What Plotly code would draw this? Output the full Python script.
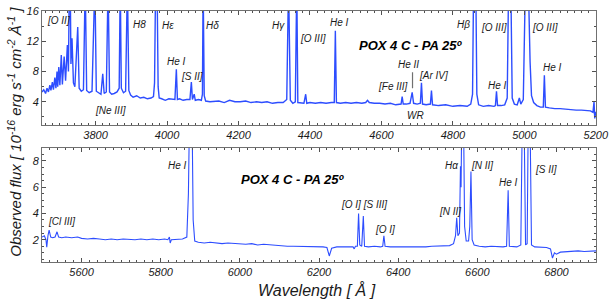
import plotly.graph_objects as go

# ---------------- data ----------------
top_wave = [3650, 3655, 3660, 3664, 3668, 3672, 3675, 3679, 3682, 3686, 3689, 3692, 3694, 3697, 3700,
            3704, 3707, 3712, 3716, 3721, 3724, 3726.5, 3729, 3731, 3734, 3738, 3742, 3750, 3754, 3760,
            3766, 3771, 3775, 3782, 3790, 3798, 3802, 3810, 3815, 3820, 3824, 3830, 3835, 3839, 3845,
            3852, 3860, 3866, 3869, 3872, 3878, 3884, 3889, 3893, 3898, 3905, 3915, 3925, 3935, 3945,
            3955, 3962, 3965, 3968, 3972, 3975, 3978, 3985, 3995, 4005, 4015, 4022, 4026, 4029, 4035,
            4045, 4055, 4064, 4068, 4071, 4076, 4079, 4088, 4096, 4099, 4101, 4104, 4108, 4120, 4135,
            4145, 4160, 4175, 4190, 4205, 4220, 4235, 4250, 4265, 4280, 4295, 4310, 4325, 4335, 4340,
            4345, 4352, 4359, 4363, 4366, 4375, 4383, 4388, 4391, 4400, 4415, 4430, 4445, 4460, 4468,
            4471, 4474, 4485, 4500, 4515, 4530, 4545, 4556, 4561, 4566, 4580, 4595, 4610, 4625, 4640,
            4650, 4655, 4658, 4661, 4670, 4680, 4686, 4690, 4700, 4709, 4712, 4715, 4725, 4737, 4740,
            4743, 4760, 4780, 4800, 4820, 4840, 4850, 4855, 4858, 4864, 4867, 4872, 4885, 4900, 4915,
            4919, 4922, 4925, 4935, 4945, 4952, 4956, 4962, 4966, 4972, 4980, 4986, 4990, 4997, 5003,
            5011, 5016, 5020, 5026, 5035, 5045, 5053, 5056, 5059, 5070, 5085, 5100, 5115, 5130, 5145,
            5160, 5175, 5185, 5192, 5195, 5197, 5200]
top_flux = [5.3, 5.6, 5.1, 5.8, 5.3, 6.2, 5.5, 6.6, 5.6, 7.2, 5.8, 8.0, 6.0, 8.6, 6.2,
            10.2, 6.3, 10.0, 6.8, 11.5, 8.0, 20, 20, 9.0, 12.4, 6.5, 6.0, 13.9, 5.8, 5.4,
            5.6, 20, 5.5, 5.2, 5.4, 20, 5.4, 5.2, 5.0, 7.7, 5.1, 5.3, 20, 5.3, 5.0,
            5.1, 5.3, 5.8, 20, 5.8, 5.2, 5.4, 20, 5.5, 4.9, 4.6, 4.8, 4.5, 4.6, 4.4,
            4.5, 4.7, 6.5, 20, 20, 6.0, 4.5, 4.4, 4.2, 4.4, 4.3, 4.3, 8.3, 4.3, 4.4,
            4.2, 4.3, 4.3, 6.6, 4.3, 5.0, 4.2, 4.3, 4.2, 5.0, 20, 4.8, 4.1, 4.0, 4.1,
            4.1, 3.9, 4.2, 4.0, 4.0, 4.1, 3.9, 4.0, 3.9, 4.0, 3.8, 3.9, 3.9, 4.3, 20,
            4.2, 3.8, 4.0, 20, 3.9, 3.8, 3.8, 5.0, 3.8, 3.9, 3.8, 3.9, 3.8, 3.9, 3.9,
            13.4, 3.9, 3.8, 3.9, 3.8, 3.9, 3.8, 3.9, 4.2, 3.9, 3.8, 3.8, 3.7, 3.8, 3.6,
            3.7, 3.7, 4.7, 3.7, 3.7, 3.8, 5.25, 3.8, 3.7, 3.8, 6.5, 3.7, 3.6, 3.7, 5.5,
            3.6, 3.5, 3.6, 3.4, 3.5, 3.4, 3.7, 5.0, 20, 20, 5.0, 3.6, 3.4, 3.5, 3.4,
            3.5, 5.4, 3.5, 3.5, 3.6, 4.5, 20, 20, 4.5, 3.7, 3.6, 4.5, 3.7, 4.3, 20,
            20, 9.3, 4.8, 3.9, 3.5, 3.3, 3.3, 7.5, 3.3, 3.2, 3.1, 3.1, 3.0, 3.0, 2.9,
            2.9, 2.9, 2.8, 2.6, 4.0, 1.8, 2.7]

bot_wave = [5500, 5506, 5510, 5512, 5515, 5518, 5522, 5527, 5533, 5538, 5542, 5550, 5560, 5575, 5590,
            5600, 5615, 5630, 5645, 5660, 5675, 5690, 5705, 5720, 5735, 5750, 5765, 5780, 5795, 5810,
            5818, 5822, 5824, 5827, 5840, 5855, 5866, 5870, 5873, 5879, 5882, 5886, 5895, 5910, 5925,
            5940, 5955, 5970, 5985, 6000, 6015, 6030, 6045, 6060, 6075, 6090, 6105, 6120, 6135, 6150,
            6165, 6180, 6195, 6210, 6220, 6226, 6232, 6245, 6260, 6275, 6286, 6289, 6292, 6297, 6300,
            6303, 6308, 6312, 6315, 6325, 6340, 6355, 6361, 6364, 6367, 6380, 6395, 6410, 6425, 6440,
            6455, 6470, 6485, 6500, 6515, 6530, 6540, 6545, 6548, 6551, 6555, 6557.5, 6559, 6561, 6565,
            6568, 6572, 6578, 6581, 6584, 6587, 6592, 6605, 6620, 6635, 6650, 6665, 6674, 6678, 6681,
            6690, 6700, 6710, 6714, 6718, 6722, 6726, 6729, 6733, 6737, 6745, 6760, 6775, 6785, 6790,
            6795, 6800, 6810, 6825, 6840, 6855, 6870, 6885, 6900]
bot_flux = [2.2, 2.3, 2.0, 1.43, 2.3, 2.72, 2.2, 2.15, 2.2, 2.6, 2.2, 2.15, 2.2, 2.15, 2.2,
            2.1, 2.05, 2.1, 2.05, 2.0, 2.05, 2.0, 2.05, 2.0, 2.0, 2.05, 2.0, 2.05, 2.0, 2.05,
            2.0, 2.2, 1.75, 2.0, 2.0, 2.05, 2.2, 5.5, 12, 12, 3.5, 1.9, 1.8, 1.75, 1.8,
            1.75, 1.7, 1.75, 1.7, 1.7, 1.65, 1.7, 1.6, 1.65, 1.6, 1.55, 1.55, 1.5, 1.5, 1.5,
            1.45, 1.5, 1.45, 1.45, 1.4, 0.76, 1.35, 1.45, 1.45, 1.45, 1.45, 1.3, 1.5, 1.5, 4.0,
            1.6, 1.5, 3.8, 1.5, 1.45, 1.5, 1.45, 1.5, 2.3, 1.5, 1.45, 1.45, 1.4, 1.45, 1.4,
            1.45, 1.45, 1.5, 1.5, 1.5, 1.55, 1.7, 2.3, 3.66, 2.3, 2.5, 7.6, 6.0, 12, 12,
            3.0, 1.9, 1.9, 3.0, 7.2, 2.0, 1.6, 1.5, 1.45, 1.5, 1.45, 1.45, 1.5, 5.77, 1.5,
            1.45, 1.45, 1.6, 12, 12, 1.6, 1.7, 12, 12, 1.6, 1.45, 1.45, 1.4, 1.3, 0.6,
            1.0, 0.9, 1.05, 1.1, 1.1, 1.15, 1.1, 1.15, 1.15]

# line identifications: (text, wavelength, flux) in data units
top_labels = [("[O II]", 3695, 14.7), ("H8", 3923, 14.2), ("Hε", 4004, 14.1), ("Hδ", 4127, 14.1),
              ("Hγ", 4311, 14.1), ("[O III]", 4408, 12.4), ("He I", 4026, 9.3), ("[S II]", 4071, 7.36),
              ("[Ne III]", 3842, 2.84), ("He I", 4484, 14.45), ("He II", 4676, 8.9),
              ("[Fe III]", 4631, 6.07), ("[Ar IV]", 4746, 7.5), ("WR", 4695, 2.2), ("Hβ", 4829, 14.2),
              ("[O III]", 4916, 13.9), ("He I", 4924, 6.2), ("[O III]", 5058, 13.9), ("He I", 5080, 8.5)]
bot_labels = [("He I", 5842, 7.66), ("[Cl III]", 5550, 3.35), ("[O I] [S III]", 6313, 4.68),
              ("[O I]", 6366, 2.75), ("[N II]", 6530, 4.16), ("Hα", 6535, 7.66), ("[N II]", 6611, 7.66),
              ("He I", 6679, 6.32), ("[S II]", 6774, 7.36)]
title_text = "POX 4 C - PA 25º"

# ---------------- figure ----------------
LINE = "#2d4dff"
FONT = "Liberation Sans, Arial, sans-serif"
TXT = "#1a1a1a"

fig = go.Figure()
fig.add_trace(go.Scatter(x=top_wave, y=top_flux, mode="lines", line=dict(color=LINE, width=1.4),
                         xaxis="x", yaxis="y", showlegend=False, hoverinfo="skip"))
fig.add_trace(go.Scatter(x=bot_wave, y=bot_flux, mode="lines", line=dict(color=LINE, width=1.1),
                         xaxis="x2", yaxis="y2", showlegend=False, hoverinfo="skip"))

tickfont = dict(family=FONT, size=11, color=TXT, style="italic")
axcommon = dict(showline=True, linecolor="#707070", linewidth=1, mirror="ticks", ticks="inside",
                ticklen=4, tickcolor="#505050", showgrid=False, zeroline=False, tickfont=tickfont)

fig.update_layout(
    width=614, height=301,
    margin=dict(l=42, r=16, t=5, b=39),
    paper_bgcolor="white", plot_bgcolor="white",
    xaxis=dict(domain=[0, 1], anchor="y", range=[3650, 5200.5], tick0=3800, dtick=200,
               minor=dict(ticks="inside", ticklen=2, dtick=20, tickcolor="#505050"), **axcommon),
    yaxis=dict(domain=[0.545, 1], anchor="x", range=[0.9, 16.02], tick0=0, dtick=4,
               minor=dict(ticks="inside", ticklen=2, dtick=2, tickcolor="#505050"), **axcommon),
    xaxis2=dict(domain=[0, 1], anchor="y2", range=[5500, 6900], tick0=5600, dtick=200,
                minor=dict(ticks="inside", ticklen=2, dtick=20, tickcolor="#505050"), **axcommon),
    yaxis2=dict(domain=[0, 0.455], anchor="x2", range=[0.3, 9], tick0=0, dtick=2,
                minor=dict(ticks="inside", ticklen=2, dtick=0.5, tickcolor="#505050"), **axcommon),
)

ann = []
lab_font = dict(family=FONT, size=10, color=TXT, style="italic")
for t, x, y in top_labels:
    ann.append(dict(text=t, x=x, y=y, xref="x", yref="y", showarrow=False, font=lab_font))
for t, x, y in bot_labels:
    ann.append(dict(text=t, x=x, y=y, xref="x2", yref="y2", showarrow=False, font=lab_font))
big_font = dict(family=FONT, size=13, color="black", style="italic", weight="bold")
ann.append(dict(text=title_text, x=4684, y=11.5, xref="x", yref="y", showarrow=False, font=big_font))
ann.append(dict(text=title_text, x=6135, y=6.55, xref="x2", yref="y2", showarrow=False, font=big_font))
ann.append(dict(text="Observed flux [ 10<sup>-16</sup> erg s<sup>-1</sup> cm<sup>-2</sup> Å<sup>-1</sup> ]",
                x=-0.05, y=0.52, xref="paper", yref="paper", textangle=-90, showarrow=False,
                xanchor="center", yanchor="middle",
                font=dict(family=FONT, size=15, color=TXT, style="italic")))
ann.append(dict(text="Wavelength [ Å ]", x=0.496, y=-0.11, xref="paper", yref="paper",
                showarrow=False, xanchor="center", yanchor="middle",
                font=dict(family=FONT, size=16, color=TXT, style="italic")))
fig.update_layout(annotations=ann)

# WR marker tick above He II 4686
fig.add_shape(type="line", x0=4687, x1=4687, y0=5.8, y1=7.9, xref="x", yref="y",
              line=dict(color="#707070", width=1.2))

fig.write_html("out.html", config={"displayModeBar": False},
               post_script="document.body.style.margin='0';")
